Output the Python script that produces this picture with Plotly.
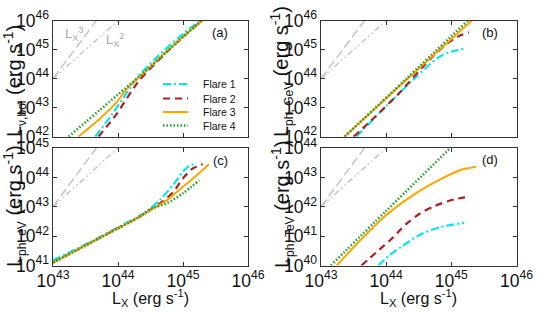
import plotly.graph_objects as go

W, H = 538, 314

# ---------------- data ----------------
# reference slopes L ~ Lx^3 and L ~ Lx^2 (two end points each)
ref_x = [1e43, 1e44]
ref3_a = [1e44, 1e47]; ref2_a = [1e44, 1e46]
ref3_b = [1e44, 1e47]; ref2_b = [1e44, 1e46]
ref3_c = [1e43, 1e46]; ref2_c = [1e43, 1e45]
ref3_d = [1e42, 1e45]; ref2_d = [1e42, 1e44]

# (a) L_nu,bol
bol_f1_x = [4.47e43, 7.94e43, 1.26e44, 2.0e44, 3.98e44, 8.91e44, 1.82e45]
bol_f1_y = [1.0e42, 5.62e42, 2.51e43, 1.12e44, 5.62e44, 2.82e45, 1.0e46]
bol_f2_x = [5.01e43, 9.55e43, 2.04e44, 4.47e44, 8.91e44, 1.95e45]
bol_f2_y = [1.0e42, 6.17e42, 7.76e43, 5.01e44, 2.19e45, 1.0e46]
bol_f3_x = [2.45e43, 5.25e43, 9.55e43, 1.45e44, 2.45e44, 5.01e44, 1.0e45, 2.0e45]
bol_f3_y = [1.0e42, 4.17e42, 1.55e43, 5.25e43, 1.51e44, 7.08e44, 2.82e45, 1.0e46]
bol_f4_x = [1.74e43, 3.16e43, 5.25e43, 1.0e44, 2.19e44, 4.47e44, 8.91e44, 1.91e45]
bol_f4_y = [1.0e42, 3.16e42, 8.32e42, 2.82e43, 1.26e44, 5.25e44, 2.19e45, 1.0e46]

# (b) L_ph,GeV
gev_f1_x = [3.47e43, 1.0e44, 2.75e44, 6.31e44, 1.0e45, 1.66e45]
gev_f1_y = [1.0e42, 1.12e43, 1.05e44, 5.37e44, 8.51e44, 1.12e45]
gev_f2_x = [3.16e43, 5.89e43, 1.58e44, 3.98e44, 8.13e44, 1.26e45, 1.86e45]
gev_f2_y = [1.0e42, 3.63e42, 3.16e43, 3.16e44, 1.48e45, 2.82e45, 3.98e45]
gev_f3_x = [2.29e43, 2.19e44, 2.04e45]
gev_f3_y = [1.0e42, 1.05e44, 1.0e46]
gev_f4_x = [2.29e43, 2.0e44, 1.78e45]
gev_f4_y = [1.0e42, 9.55e43, 1.0e46]

# (c) L_ph,eV
ev_f1_x = [1e43, 2e43, 3.98e43, 1e44, 2e44, 2.82e44, 4.47e44, 7.08e44, 1e45, 1.26e45, 1.58e45]
ev_f1_y = [1.51e41, 3.16e41, 6.76e41, 2e42, 4.47e42, 7.08e42, 1.78e43, 5.62e43, 1.58e44, 2.51e44, 2.95e44]
ev_f2_x = [1e43, 2e43, 3.98e43, 1e44, 2e44, 3.16e44, 5.01e44, 7.08e44, 1e45, 1.41e45, 2e45]
ev_f2_y = [1.26e41, 2.82e41, 6.31e41, 1.86e42, 4.17e42, 7.94e42, 1.58e43, 3.16e43, 9.33e43, 2e44, 2.82e44]
ev_f3_x = [1e43, 2e43, 3.98e43, 1e44, 2e44, 3.55e44, 5.62e44, 1e45, 1.58e45, 2.51e45]
ev_f3_y = [1.26e41, 2.82e41, 6.31e41, 1.86e42, 4.17e42, 8.91e42, 1.66e43, 4.79e43, 1.12e44, 2.82e44]
ev_f4_x = [1e43, 2e43, 3.98e43, 1e44, 2e44, 3.16e44, 5.62e44, 1e45, 1.78e45]
ev_f4_y = [1.26e41, 2.82e41, 6.31e41, 1.86e42, 4.17e42, 8.32e42, 1.32e43, 2.88e43, 7.94e43]

# (d) L_ph,TeV
tev_f1_x = [7.59e43, 1.12e44, 1.74e44, 3.31e44, 6.76e44, 1.58e45]
tev_f1_y = [1e40, 2.24e40, 4.47e40, 1.12e41, 2.04e41, 2.82e41]
tev_f2_x = [4.17e43, 7.08e43, 1.2e44, 2e44, 3.31e44, 5.62e44, 1.1e45, 1.91e45]
tev_f2_y = [1e40, 2.82e40, 7.94e40, 2.51e41, 5.89e41, 1.07e42, 1.78e42, 2.19e42]
tev_f3_x = [1.74e43, 3.98e43, 8.91e43, 1.78e44, 3.31e44, 6.76e44, 1.38e45, 2.4e45]
tev_f3_y = [1e40, 7.08e40, 4.17e41, 1.41e42, 3.55e42, 8.51e42, 1.78e43, 2.29e43]
tev_f4_x = [1.41e43, 1e44, 1.05e45]
tev_f4_y = [1e40, 7.24e41, 1.2e44]

series_names = ["Flare 1", "Flare 2", "Flare 3", "Flare 4"]

# ---------------- styles ----------------
FONT = "Liberation Sans, Arial, sans-serif"
styles = [
    dict(color="#00E8F0", width=2.2, dash="8px,3px,2px,3px"),
    dict(color="#B01E1E", width=2.2, dash="7px,5px"),
    dict(color="#FFA500", width=2.0, dash="solid"),
    dict(color="#2E9A2E", width=2.6, dash="1.5px,2px"),
]
GRAY = "#C4C4C4"
ref3_style = dict(color=GRAY, width=1.5, dash="9px,4px")
ref2_style = dict(color=GRAY, width=1.5, dash="6px,3px,1.5px,3px,1.5px,3px")

fig = go.Figure()

panels = [
    ("x", "y", ref3_a, ref2_a, [(bol_f1_x, bol_f1_y), (bol_f2_x, bol_f2_y), (bol_f3_x, bol_f3_y), (bol_f4_x, bol_f4_y)]),
    ("x2", "y2", ref3_b, ref2_b, [(gev_f1_x, gev_f1_y), (gev_f2_x, gev_f2_y), (gev_f3_x, gev_f3_y), (gev_f4_x, gev_f4_y)]),
    ("x3", "y3", ref3_c, ref2_c, [(ev_f1_x, ev_f1_y), (ev_f2_x, ev_f2_y), (ev_f3_x, ev_f3_y), (ev_f4_x, ev_f4_y)]),
    ("x4", "y4", ref3_d, ref2_d, [(tev_f1_x, tev_f1_y), (tev_f2_x, tev_f2_y), (tev_f3_x, tev_f3_y), (tev_f4_x, tev_f4_y)]),
]

for xa, ya, r3, r2, curves in panels:
    fig.add_trace(go.Scatter(x=ref_x, y=r3, mode="lines", line=ref3_style, xaxis=xa, yaxis=ya,
                             showlegend=False, hoverinfo="skip"))
    fig.add_trace(go.Scatter(x=ref_x, y=r2, mode="lines", line=ref2_style, xaxis=xa, yaxis=ya,
                             showlegend=False, hoverinfo="skip"))
    for (cx, cy), st, nm in zip(curves, styles, series_names):
        fig.add_trace(go.Scatter(x=cx, y=cy, mode="lines", name=nm, xaxis=xa, yaxis=ya,
                                 line=dict(color=st["color"], width=st["width"], dash=st["dash"],
                                           shape="spline", smoothing=0.8),
                                 showlegend=False))


def px_x(p):
    return p / W


def px_y(p):
    return 1 - p / H


xd_left = [px_x(53), px_x(248)]
xd_right = [px_x(321), px_x(516.5)]
yd_top = [px_y(136.7), px_y(20.7)]
yd_bot = [px_y(265.5), px_y(148)]

axis_common = dict(type="log", showline=True, mirror="ticks", linecolor="#333333", linewidth=1,
                   ticks="inside", ticklen=4, tickcolor="#333333", showgrid=False, zeroline=False,
                   exponentformat="power", dtick=1, automargin=False,
                   tickfont=dict(family=FONT, size=14, color="#111111"))

fig.update_layout(
    template="none",
    width=W, height=H, autosize=False,
    margin=dict(l=0, r=0, t=0, b=0, pad=0),
    paper_bgcolor="white", plot_bgcolor="white",
    showlegend=False,
    font=dict(family=FONT, color="#111111"),
    xaxis=dict(axis_common, domain=xd_left, range=[43, 46], anchor="y", showticklabels=False),
    yaxis=dict(axis_common, domain=yd_top, range=[42, 46], anchor="x"),
    xaxis2=dict(axis_common, domain=xd_right, range=[43, 46], anchor="y2", showticklabels=False),
    yaxis2=dict(axis_common, domain=yd_top, range=[42, 46], anchor="x2"),
    xaxis3=dict(axis_common, domain=xd_left, range=[43, 46], anchor="y3"),
    yaxis3=dict(axis_common, domain=yd_bot, range=[41, 45], anchor="x3"),
    xaxis4=dict(axis_common, domain=xd_right, range=[43, 46], anchor="y4"),
    yaxis4=dict(axis_common, domain=yd_bot, range=[40, 44], anchor="x4"),
)

ann = []


def add_text(txt, x, y, size, color="#111111", angle=0, xanchor="center"):
    ann.append(dict(text=txt, x=px_x(x), y=px_y(y), xref="paper", yref="paper", showarrow=False,
                    textangle=angle, xanchor=xanchor, yanchor="middle",
                    font=dict(family=FONT, size=size, color=color)))


# panel letters
for txt, x, y in [("(a)", 220, 33), ("(b)", 490, 33), ("(c)", 220, 160), ("(d)", 490, 159)]:
    add_text(txt, x, y, 13)
# slope labels
add_text("L<sub>X</sub><sup>3</sup>", 74, 34, 13, color="#A8A8A8")
add_text("L<sub>X</sub><sup>2</sup>", 115, 40, 13, color="#A8A8A8")
# axis titles
for xc in (150.5, 418.5):
    add_text("L<sub>X</sub> (erg s<sup>-1</sup>)", xc, 298, 16)

SUB = '<sub><span style="font-size:12px">{}</span></sub>'
for sub, x, y in [
    ("ν,bol", 14, 81),
    ("ph, GeV", 282, 72),
    ("ph, eV", 14, 206),
    ("ph, TeV", 282, 205),
]:
    add_text("L" + SUB.format(sub) + " (erg s<sup>-1</sup>)", x, y, 20, angle=-90)

# legend (inside panel a)
shapes = []
leg_rows = [84, 98.5, 112, 125.5]
for nm, st, yy in zip(series_names, styles, leg_rows):
    shapes.append(dict(type="line", xref="paper", yref="paper", x0=px_x(163), x1=px_x(188),
                       y0=px_y(yy), y1=px_y(yy),
                       line=dict(color=st["color"], width=st["width"], dash=st["dash"])))
    add_text(nm, 201, yy, 10.5, xanchor="left")

fig.update_layout(annotations=ann, shapes=shapes)

fig.write_html("out.html", config={"displayModeBar": False},
               post_script="document.body.style.margin='0px';document.body.style.overflow='hidden';")
